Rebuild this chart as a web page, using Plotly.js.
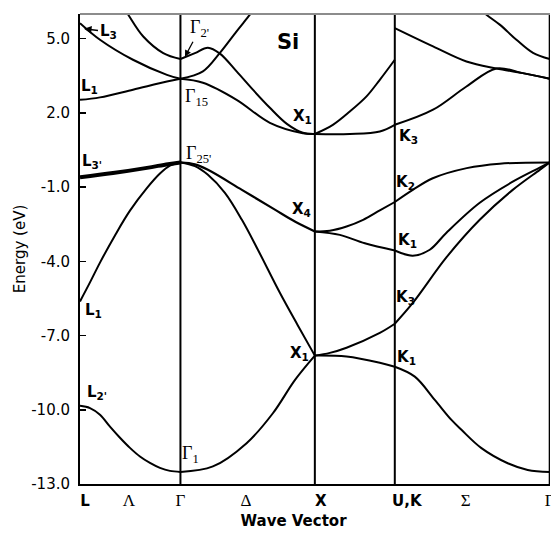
<!DOCTYPE html>
<html>
<head>
<meta charset="utf-8">
<script src="https://cdn.plot.ly/plotly-3.0.1.min.js"></script>
<style>html,body{margin:0;padding:0;background:#fff;}#chart{width:551px;height:533px;}</style>
</head>
<body>
<div id="chart"></div>
<script>
// High-symmetry k-points (path coordinate)
const kPointNames = ["L", "Γ", "X", "U,K", "Γ"];
const kPointPos = [0, 1.005, 2.35, 3.15, 4.70];

// x-axis labels
const xTickText = ["L", "Λ", "Γ", "Δ", "X", "U,K", "Σ", "Γ"];
const xTickVals = [0.05, 0.49, 1.005, 1.66, 2.41, 3.27, 3.86, 4.70];
const xTickSerif = [false, true, true, true, false, false, true, true];

// y-axis ticks
const yTickVals = [5, 2, -1, -4, -7, -10, -13];
const yTickText = ["5.0", "2.0", "-1.0", "-4.0", "-7.0", "-10.0", "-13.0"];

// ---- Valence bands (energy in eV) ----
const v1_LG_k = [0, 0.10, 0.20, 0.30, 0.40, 0.50, 0.60, 0.70, 0.80, 0.90, 1.005];
const v1_LG_E = [-9.84, -9.93, -10.20, -10.68, -11.13, -11.54, -11.89, -12.15, -12.35, -12.47, -12.51];
const v1_GX_k = [1.005, 1.33, 1.667, 1.93, 2.15, 2.35];
const v1_GX_E = [-12.51, -12.29, -11.35, -10.14, -8.80, -7.81];
const v1_XK_k = [2.35, 2.667, 3.0, 3.15];
const v1_XK_E = [-7.81, -7.85, -8.10, -8.26];
const v1_KG_k = [3.15, 3.35, 3.55, 3.717, 3.817, 4.017, 4.28, 4.48, 4.70];
const v1_KG_E = [-8.26, -8.66, -9.60, -10.41, -10.81, -11.55, -12.16, -12.43, -12.51];

const v2_LG_k = [0, 0.1, 0.2, 0.35, 0.5, 0.667, 0.8, 0.9, 1.005];
const v2_LG_E = [-5.62, -4.85, -4.05, -2.95, -1.95, -1.05, -0.45, -0.13, 0];
const v2_GX_k = [1.005, 1.15, 1.28, 1.45, 1.62, 1.78, 2.0, 2.18, 2.35];
const v2_GX_E = [0, -0.15, -0.50, -1.23, -2.32, -3.53, -5.27, -6.59, -7.81];
const v2_XK_k = [2.35, 2.50, 2.667, 3.0, 3.15];
const v2_XK_E = [-7.81, -7.70, -7.49, -6.89, -6.52];
const v2_KG_k = [3.15, 3.33, 3.67, 4.0, 4.33, 4.60, 4.70];
const v2_KG_E = [-6.52, -5.68, -3.82, -2.32, -1.11, -0.30, 0];

const v34_LG_k = [0, 0.33, 0.67, 0.88, 1.005];
const v34_LG_E = [-0.60, -0.43, -0.22, -0.07, 0];
const v34_GX_k = [1.005, 1.15, 1.28, 1.62, 1.95, 2.15, 2.35];
const v34_GX_E = [0, -0.08, -0.30, -1.11, -1.91, -2.39, -2.79];
const v3_XK_k = [2.35, 2.60, 2.85, 3.15];
const v3_XK_E = [-2.79, -2.93, -3.27, -3.56];
const v4_XK_k = [2.35, 2.50, 2.667, 2.833, 3.0, 3.15];
const v4_XK_E = [-2.79, -2.76, -2.59, -2.32, -1.94, -1.60];
const v3_KG_k = [3.15, 3.33, 3.50, 3.667, 4.0, 4.33, 4.60, 4.70];
const v3_KG_E = [-3.56, -3.77, -3.53, -2.84, -1.63, -0.78, -0.21, 0];
const v4_KG_k = [3.15, 3.33, 3.53, 3.87, 4.2, 4.70];
const v4_KG_E = [-1.60, -1.11, -0.64, -0.23, -0.05, 0];

// ---- Conduction bands ----
const cL1_k = [0, 0.2, 0.53, 0.87, 1.005];
const cL1_E = [2.53, 2.63, 2.94, 3.27, 3.38];
const cL3_k = [0, 0.2, 0.53, 0.87, 1.005];
const cL3_E = [5.63, 4.96, 4.15, 3.54, 3.38];
const cTopLG_k = [0.40, 0.483, 0.633, 0.833, 1.005];
const cTopLG_E = [6.5, 5.97, 5.09, 4.42, 4.18];
const cG2X_k = [1.005, 1.15, 1.28, 1.40, 1.567, 1.73, 1.90, 2.07, 2.23, 2.35];
const cG2X_E = [4.18, 4.42, 4.64, 4.40, 3.68, 2.94, 2.21, 1.56, 1.20, 1.15];
const cG15up_k = [1.005, 1.23, 1.40, 1.567, 1.70, 1.80];
const cG15up_E = [3.38, 3.68, 4.43, 5.30, 5.97, 6.5];
const cG15dn_k = [1.005, 1.23, 1.567, 1.90, 2.23, 2.35];
const cG15dn_E = [3.38, 3.22, 2.53, 1.60, 1.18, 1.15];
const cXup_k = [2.35, 2.53, 2.70, 2.867, 3.0, 3.15];
const cXup_E = [1.15, 1.52, 2.06, 2.67, 3.34, 4.15];
const cXflat_k = [2.35, 2.70, 3.0, 3.15];
const cXflat_E = [1.15, 1.15, 1.25, 1.52];
const cK3up_k = [3.15, 3.533, 3.867, 4.167, 4.43, 4.70];
const cK3up_E = [1.52, 2.13, 3.07, 3.80, 3.61, 3.38];
const cKdn_k = [3.15, 3.533, 3.867, 4.167, 4.43, 4.70];
const cKdn_E = [5.43, 4.69, 4.08, 3.80, 3.61, 3.38];
const cTopKG_k = [3.91, 4.067, 4.20, 4.367, 4.533, 4.70];
const cTopKG_E = [6.5, 5.97, 5.57, 4.96, 4.43, 4.18];

const LW = 2.0;
const segments = [
  [v1_LG_k, v1_LG_E, LW], [v1_GX_k, v1_GX_E, LW], [v1_XK_k, v1_XK_E, LW], [v1_KG_k, v1_KG_E, LW],
  [v2_LG_k, v2_LG_E, LW], [v2_GX_k, v2_GX_E, LW], [v2_XK_k, v2_XK_E, LW], [v2_KG_k, v2_KG_E, LW],
  [v34_LG_k, v34_LG_E, 4.0], [v34_GX_k, v34_GX_E, 2.2],
  [v3_XK_k, v3_XK_E, LW], [v4_XK_k, v4_XK_E, LW], [v3_KG_k, v3_KG_E, LW], [v4_KG_k, v4_KG_E, LW],
  [cL1_k, cL1_E, LW], [cL3_k, cL3_E, LW], [cTopLG_k, cTopLG_E, LW],
  [cG2X_k, cG2X_E, LW], [cG15up_k, cG15up_E, LW], [cG15dn_k, cG15dn_E, LW],
  [cXup_k, cXup_E, LW], [cXflat_k, cXflat_E, LW],
  [cK3up_k, cK3up_E, LW], [cKdn_k, cKdn_E, LW], [cTopKG_k, cTopKG_E, LW]
];

const traces = segments.map(s => ({
  x: s[0], y: s[1], type: 'scatter', mode: 'lines',
  line: {color: '#000', width: s[2], shape: 'spline', smoothing: 1},
  hoverinfo: 'skip', showlegend: false
}));

const SANS = 'DejaVu Sans';
const SERIF = 'Liberation Serif';

const ticktext = xTickText.map((t, i) => xTickSerif[i]
  ? '<span style="font-family:' + SERIF + ';font-size:17px;">' + t + '</span>'
  : '<b>' + t + '</b>');

function boldLabel(x, y, txt) {
  return {x: x, y: y, xref: 'x', yref: 'y', text: '<b>' + txt + '</b>', showarrow: false,
          font: {family: SANS, size: 15, color: '#000'}, xanchor: 'center', yanchor: 'middle'};
}
function serifLabel(x, y, txt) {
  return {x: x, y: y, xref: 'x', yref: 'y', text: txt, showarrow: false,
          font: {family: SERIF, size: 18, color: '#000'}, xanchor: 'center', yanchor: 'middle'};
}

const annotations = [
  {x: 0.04, y: 5.40, xref: 'x', yref: 'y', text: '<b>L<sub>3</sub></b>', showarrow: true,
   ax: 24, ay: 3, arrowhead: 2, arrowsize: 1, arrowwidth: 1.5, arrowcolor: '#000',
   font: {family: SANS, size: 15, color: '#000'}},
  boldLabel(0.10, 3.06, 'L<sub>1</sub>'),
  boldLabel(0.12, 0.03, "L<sub>3'</sub>"),
  boldLabel(0.14, -6.0, 'L<sub>1</sub>'),
  boldLabel(0.17, -9.31, "L<sub>2'</sub>"),
  {x: 1.05, y: 4.27, xref: 'x', yref: 'y', text: "Γ<sub>2'</sub>", showarrow: true,
   ax: 15, ay: -28, arrowhead: 2, arrowsize: 1, arrowwidth: 1.3, arrowcolor: '#000',
   font: {family: SERIF, size: 18, color: '#000'}},
  serifLabel(1.17, 2.61, 'Γ<sub>15</sub>'),
  serifLabel(1.19, 0.31, "Γ<sub>25'</sub>"),
  serifLabel(1.11, -11.82, 'Γ<sub>1</sub>'),
  {x: 2.08, y: 4.88, xref: 'x', yref: 'y', text: '<b>Si</b>', showarrow: false,
   font: {family: SANS, size: 21, color: '#000'}},
  boldLabel(2.23, 1.85, 'X<sub>1</sub>'),
  boldLabel(3.29, 1.04, 'K<sub>3</sub>'),
  boldLabel(3.26, -0.82, 'K<sub>2</sub>'),
  boldLabel(2.22, -1.91, 'X<sub>4</sub>'),
  boldLabel(3.28, -3.17, 'K<sub>1</sub>'),
  boldLabel(3.26, -5.47, 'K<sub>3</sub>'),
  boldLabel(2.20, -7.74, 'X<sub>1</sub>'),
  boldLabel(3.27, -7.90, 'K<sub>1</sub>')
];

const shapes = kPointPos.slice(1).map(k => ({
  type: 'line', xref: 'x', yref: 'paper', x0: k, x1: k, y0: 0, y1: 1,
  line: {color: '#000', width: 2}
}));
shapes.push({type: 'line', xref: 'paper', yref: 'paper', x0: 0, x1: 1, y0: 1, y1: 1,
  line: {color: '#8c8c8c', width: 2}});

const layout = {
  width: 551, height: 533,
  margin: {l: 80, r: 1, t: 14, b: 49},
  paper_bgcolor: '#fff', plot_bgcolor: '#fff',
  font: {family: SANS, size: 15, color: '#000'},
  xaxis: {
    range: [kPointPos[0], kPointPos[4] + 0.003], showgrid: false, zeroline: false,
    showline: true, linecolor: '#000', linewidth: 2,
    tickmode: 'array', tickvals: xTickVals, ticktext: ticktext, ticks: '',
    tickfont: {family: SANS, size: 15, color: '#000'},
    ticklabelstandoff: 2, ticklabeloverflow: 'allow',
    title: {text: '<b>Wave Vector</b>' + '&nbsp;'.repeat(9), font: {family: SANS, size: 15, color: '#000'}, standoff: 6},
    automargin: false
  },
  yaxis: {
    range: [-13, 6], showgrid: false, zeroline: false,
    showline: true, linecolor: '#000', linewidth: 2,
    tickmode: 'array', tickvals: yTickVals, ticktext: yTickText,
    ticks: 'inside', ticklen: 6, tickwidth: 1.5, tickcolor: '#000',
    tickfont: {family: SANS, size: 15, color: '#000'},
    ticklabelstandoff: 5,
    title: {text: 'Energy (eV)', font: {family: SANS, size: 15, color: '#000'}, standoff: 2},
    automargin: false
  },
  annotations: annotations,
  shapes: shapes
};

Plotly.newPlot('chart', traces, layout, {displayModeBar: false, staticPlot: true});
</script>
</body>
</html>
